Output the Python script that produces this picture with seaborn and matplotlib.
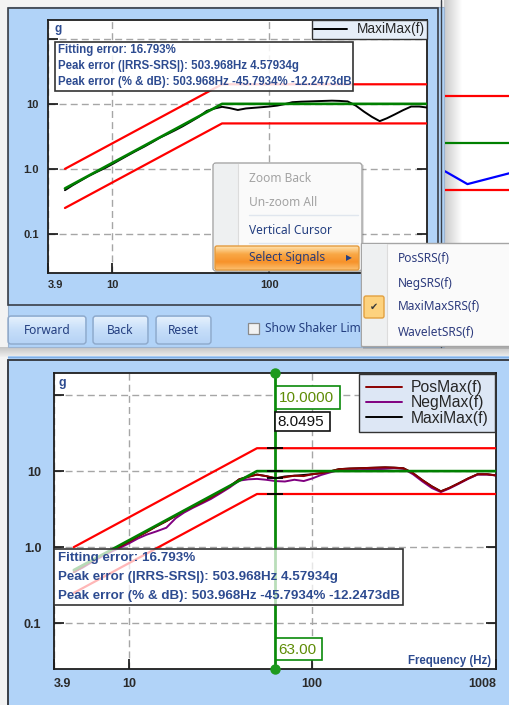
import numpy as np
import matplotlib
matplotlib.use("Agg")
import matplotlib.pyplot as plt
import seaborn as sns
from matplotlib.patches import Rectangle, FancyBboxPatch
from matplotlib.colors import LinearSegmentedColormap

# ---------------------------------------------------------------- data
freq = [5, 5.6, 6.3, 7.1, 8, 9, 10, 11.2, 12.5, 14, 16, 18, 20, 22.4, 25, 28,
        31.5, 35.5, 40, 45, 50, 56, 63, 71, 80, 90, 100, 112, 125, 140, 160,
        180, 200, 224, 250, 280, 315, 355, 400, 450, 503.968, 560, 630, 710,
        800, 900, 1000]
maximax = [0.47, 0.56, 0.66, 0.78, 0.90, 1.03, 1.18, 1.38, 1.60, 1.86, 2.20,
           2.58, 3.00, 3.42, 3.90, 4.50, 5.30, 6.30, 7.80, 8.50, 9.00, 8.60,
           8.0495, 8.50, 8.70, 8.90, 9.10, 9.40, 9.90, 10.6, 10.8, 10.9, 11.0,
           11.1, 11.2, 11.1, 10.9, 9.4, 7.6, 6.3, 5.42066, 6.0, 6.9, 8.0, 9.1,
           9.1, 8.8]
posmax = [0.47, 0.55, 0.66, 0.77, 0.90, 1.03, 1.18, 1.38, 1.58, 1.86, 2.20,
          2.58, 3.00, 3.42, 3.90, 4.50, 5.30, 6.30, 7.80, 8.40, 9.00, 8.60,
          8.0495, 8.30, 8.70, 8.60, 9.10, 9.40, 9.90, 10.6, 10.8, 10.9, 11.0,
          11.1, 11.2, 11.1, 10.9, 9.4, 7.6, 6.3, 5.42066, 6.0, 6.9, 8.0, 9.1,
          9.1, 8.8]
negmax = [0.47, 0.54, 0.64, 0.75, 0.87, 0.99, 1.12, 1.30, 1.46, 1.60, 1.80,
          2.40, 2.85, 3.30, 3.75, 4.30, 5.10, 6.10, 7.50, 7.80, 7.90, 7.70,
          7.40, 7.30, 7.70, 7.40, 8.00, 8.90, 9.60, 10.3, 10.5, 10.7, 10.6,
          10.6, 10.7, 10.9, 10.7, 9.1, 7.3, 6.0, 5.30, 5.9, 6.8, 7.9, 9.0,
          9.0, 8.8]

# required response spectrum with +/-6 dB tolerance band
ref_freq = [5, 50, 1000]
ref_level = [0.5, 10, 10]
upper_level = [1.0, 20, 20]
lower_level = [0.25, 5, 5]

# partially visible chart of the second window
side_freq = [430, 505, 680]
side_wavelet = [6.6, 5.46, 6.4]
side_band_freq = [430, 680]

x_ticks = [3.9, 10, 100, 1008]
x_tick_labels = ["3.9", "10", "100", "1008"]
y_ticks = [0.1, 1, 10, 100]
y_tick_labels = ["0.1", "1.0", "10", ""]

cursor_freq = 63.0
fitting_error = 16.793
peak_freq = 503.968
peak_abs = 4.57934
peak_pct = -45.7934
peak_db = -12.2473

menu_items = ["Zoom Back", "Un-zoom All", "Vertical Cursor", "Select Signals"]
signal_items = ["PosSRS(f)", "NegSRS(f)", "MaxiMaxSRS(f)", "WaveletSRS(f)"]
buttons = ["Forward", "Back", "Reset"]

# ---------------------------------------------------------------- setup
sns.set_theme(style="white")
plt.rcParams["font.family"] = ["Liberation Sans", "DejaVu Sans"]

W, H = 509, 705
fig = plt.figure(figsize=(W / 100, H / 100), dpi=100)
fig.patch.set_facecolor("#F3F3F3")

BLUE = "#B1D3F8"
DARK = "#3A3F48"
TXT_BLUE = "#2D4B90"
MENU_FONT = ["Noto Sans", "DejaVu Sans"]


def px_rect(x0, y0, x1, y1):
    return [x0 / W, 1 - y1 / H, (x1 - x0) / W, (y1 - y0) / H]


def pixel_axes(z):
    a = fig.add_axes([0, 0, 1, 1], zorder=z)
    a.set_facecolor("none")
    a.axis("off")
    return a


def gradient(a, x0, x1, y0, y1, colors, vertical=True, z=1, alpha=1.0):
    cmap = LinearSegmentedColormap.from_list("grad", colors)
    g = np.linspace(0, 1, 64)
    arr = g[:, None] if vertical else g[None, :]
    a.imshow(arr, cmap=cmap, extent=(x0, x1, y1, y0), aspect="auto",
             zorder=z, interpolation="bilinear", alpha=alpha)


def fix_pixels(a):
    a.set_xlim(0, W)
    a.set_ylim(H, 0)


# ---------------------------------------------------------------- background
bg = pixel_axes(0)
# second window (behind), with a soft shadow on its left edge
bg.add_patch(Rectangle((444, 0), W - 444, 350, facecolor="white", lw=0, zorder=1))
gradient(bg, 444, 462, 0, 350, ["#C9C9C9", "#FFFFFF"], vertical=False, z=2)
# top window
bg.add_patch(Rectangle((8, 7), 436, 340, facecolor=BLUE, edgecolor="#9DB4D0",
                       lw=0.8, zorder=3))
bg.add_patch(Rectangle((8, 8), 430, 297, facecolor="none", edgecolor=DARK,
                       lw=1.2, zorder=4))
bg.plot([441.5, 441.5], [0, 347], color=DARK, lw=1.0, zorder=4)
# gap shadow between windows
gradient(bg, 0, W, 347, 357, ["#C4C4C4", "#EFEFEF"], vertical=True, z=2)
# bottom window
bg.add_patch(Rectangle((8, 356), W - 8, H - 356, facecolor=BLUE, lw=0, zorder=3))
bg.plot([8, W], [356.5, 356.5], color="#7FAFE6", lw=1.0, zorder=4)
bg.plot([8, W], [360, 360], color=DARK, lw=1.4, zorder=4)
bg.plot([8.5, 8.5], [360, H], color=DARK, lw=1.4, zorder=4)

# buttons and checkbox of the top window
button_x = [(8, 86), (93, 148), (156, 211)]
for (bx0, bx1), name in zip(button_x, buttons):
    gradient(bg, bx0 + 1, bx1 - 1, 317, 343, ["#E4F0FD", "#C6DEF9", "#B6D3F5"], z=5)
    bg.add_patch(FancyBboxPatch((bx0, 316), bx1 - bx0, 28,
                                boxstyle="round,pad=0,rounding_size=3",
                                facecolor="none", edgecolor="#8EA8C9", lw=1.0,
                                zorder=6))
    bg.text((bx0 + bx1) / 2, 330.5, name, ha="center", va="center",
            fontsize=8.6, color="#243F80", family=MENU_FONT, zorder=7)
bg.add_patch(Rectangle((248, 323), 11, 11, facecolor="#F2F2F2",
                       edgecolor="#8A8A8A", lw=0.9, zorder=6))
bg.text(265, 329, "Show Shaker Lim", ha="left", va="center", fontsize=8.6,
        color="#243F80", family=MENU_FONT, zorder=7)
fix_pixels(bg)


# ---------------------------------------------------------------- chart helpers
def style_chart(ax, tsize, ypad, xpad, xlabels):
    ax.set_xscale("log")
    ax.set_yscale("log")
    ax.set_xlim(3.9, 1008)
    ax.set_ylim(0.025, 195)
    ax.set_xticks(x_ticks)
    ax.set_xticklabels(xlabels)
    ax.set_yticks(y_ticks)
    ax.set_yticklabels(y_tick_labels)
    ax.minorticks_off()
    ax.set_xlabel("")
    ax.set_ylabel("")
    ax.set_facecolor("white")
    ax.grid(True, which="major", color="#A6A6A6", lw=1.0, ls=(0, (5, 3)))
    ax.tick_params(axis="both", direction="in", length=7, width=1.2,
                   color="#111111", labelsize=tsize, labelcolor="#2A2A2A",
                   right=True, left=True, bottom=True, top=False)
    ax.tick_params(axis="y", pad=ypad)
    ax.tick_params(axis="x", pad=xpad)
    for lab in ax.get_xticklabels() + ax.get_yticklabels():
        lab.set_fontweight("bold")
    labs = ax.get_xticklabels()
    labs[0].set_horizontalalignment("left")
    labs[-1].set_horizontalalignment("right")
    for s in ax.spines.values():
        s.set_color("#1E1E1E")
        s.set_linewidth(1.3)
        s.set_visible(True)


def draw_band(ax, lw_band=1.6, lw_ref=1.9):
    sns.lineplot(x=ref_freq, y=ref_level, ax=ax, color="#008000", lw=lw_ref,
                 estimator=None, sort=False, zorder=4)
    sns.lineplot(x=ref_freq, y=upper_level, ax=ax, color="#FF0000", lw=lw_band,
                 estimator=None, sort=False, zorder=4)
    sns.lineplot(x=ref_freq, y=lower_level, ax=ax, color="#FF0000", lw=lw_band,
                 estimator=None, sort=False, zorder=4)


# ---------------------------------------------------------------- second window chart
side = fig.add_axes(px_rect(445, 0, 509, 243), zorder=1)
side.set_facecolor("none")
for lvl, col in [(20, "#FF0000"), (10, "#008000"), (5, "#FF0000")]:
    sns.lineplot(x=side_band_freq, y=[lvl, lvl], ax=side, color=col, lw=1.6,
                 estimator=None)
sns.lineplot(x=side_freq, y=side_wavelet, ax=side, color="#0000FF", lw=1.6,
             estimator=None, sort=False)
side.set_xscale("log")
side.set_yscale("log")
side.set_xlim(430, 680)
side.set_ylim(2.29, 82.6)
side.axis("off")

# ---------------------------------------------------------------- top chart
ax1 = fig.add_axes(px_rect(48, 20, 427, 273), zorder=2)
sns.lineplot(x=freq, y=maximax, ax=ax1, color="black", lw=1.4,
             estimator=None, sort=False, zorder=3, label="MaxiMax(f)")
draw_band(ax1)
# the last frequency label of this chart sits under the pop-up menu
style_chart(ax1, 8.0, 6.5, 5.0, x_tick_labels[:-1] + [""])
h, l = ax1.get_legend_handles_labels()
leg1 = ax1.legend(h, l, loc="upper right", bbox_to_anchor=(1.0, 1.0),
                  borderaxespad=0.0, fontsize=9.8, frameon=True, fancybox=False,
                  framealpha=1, facecolor="#E6EEF8", edgecolor="#333333",
                  handlelength=2.4, handletextpad=0.7, borderpad=0.18)
leg1.get_frame().set_linewidth(1.0)

# ---------------------------------------------------------------- bottom chart
ax2 = fig.add_axes(px_rect(54, 373, 496, 669), zorder=2)
sns.lineplot(x=freq, y=maximax, ax=ax2, color="black", lw=1.4,
             estimator=None, sort=False, zorder=3, label="MaxiMax(f)")
sns.lineplot(x=freq, y=negmax, ax=ax2, color="#800080", lw=1.4,
             estimator=None, sort=False, zorder=3, label="NegMax(f)")
sns.lineplot(x=freq, y=posmax, ax=ax2, color="#8B0000", lw=1.4,
             estimator=None, sort=False, zorder=3, label="PosMax(f)")
draw_band(ax2)
style_chart(ax2, 9.0, 9.0, 6.5, x_tick_labels)
h, l = ax2.get_legend_handles_labels()
order = [l.index("PosMax(f)"), l.index("NegMax(f)"), l.index("MaxiMax(f)")]
leg2 = ax2.legend([h[i] for i in order], [l[i] for i in order],
                  loc="upper right", bbox_to_anchor=(1.0, 1.0),
                  borderaxespad=0.05, fontsize=11.3, frameon=True,
                  fancybox=False, framealpha=1, facecolor="#DDE7F5",
                  edgecolor="#333333", handlelength=2.3, handletextpad=0.6,
                  borderpad=0.4, labelspacing=0.02)
leg2.get_frame().set_linewidth(1.0)

# vertical cursor
log_ref = np.log10(ref_freq)
lc = np.log10(cursor_freq)
cur_ref = 10 ** np.interp(lc, log_ref, np.log10(ref_level))
cur_up = 10 ** np.interp(lc, log_ref, np.log10(upper_level))
cur_low = 10 ** np.interp(lc, log_ref, np.log10(lower_level))
cur_val = maximax[freq.index(cursor_freq)]
ax2.axvline(cursor_freq, color="#0A8A0A", lw=2.0, zorder=5)
y0, y1 = ax2.get_ylim()
ax2.plot([cursor_freq, cursor_freq], [y0, y1], ls="none", marker="o", ms=6.5,
         color="#1E9A1E", clip_on=False, zorder=6)
ax2.plot([cursor_freq] * 4, [cur_up, cur_ref, cur_val, cur_low], ls="none",
         marker="_", ms=11, mew=1.3, color="black", zorder=6)

# ---------------------------------------------------------------- overlay texts / menus
ov = pixel_axes(5)

# unit labels
ov.text(58, 29, "g", fontsize=8.5, fontweight="bold", color=TXT_BLUE,
        ha="center", va="center")
ov.text(62, 383, "g", fontsize=9.0, fontweight="bold", color=TXT_BLUE,
        ha="center", va="center")
ov.text(491, 661, "Frequency (Hz)", fontsize=8.3, fontweight="bold",
        color=TXT_BLUE, ha="right", va="center")

info_lines = [
    f"Fitting error: {fitting_error:.3f}%",
    f"Peak error (|RRS-SRS|): {peak_freq:.3f}Hz {peak_abs:.5f}g",
    f"Peak error (% & dB): {peak_freq:.3f}Hz {peak_pct:.4f}% {peak_db:.4f}dB",
]
# info box, top chart
ov.add_patch(Rectangle((55, 42), 298, 49, facecolor="white", alpha=0.85,
                       edgecolor="none", zorder=2))
ov.add_patch(Rectangle((55, 42), 298, 49, facecolor="none", edgecolor="#333333",
                       lw=1.2, zorder=3))
for yy, s in zip([50, 66, 82], info_lines):
    ov.text(58, yy, s, fontsize=8.3, fontweight="bold", color=TXT_BLUE,
            ha="left", va="center", zorder=4)
# info box, bottom chart
ov.add_patch(Rectangle((54, 549), 349, 56, facecolor="white", alpha=0.72,
                       edgecolor="none", zorder=2))
ov.add_patch(Rectangle((54, 549), 349, 56, facecolor="none", edgecolor="#333333",
                       lw=1.2, zorder=3))
for yy, s in zip([558, 577, 596], info_lines):
    ov.text(58, yy, s, fontsize=9.6, fontweight="bold", color=TXT_BLUE,
            ha="left", va="center", zorder=4)

# cursor read-outs
CUR_TXT = "#5E8C06"
for (bx0, by0, bx1, by1), s, ec, tc in [
        ((276, 386, 340, 409), f"{cur_ref:.4f}", "#0A8A0A", CUR_TXT),
        ((275, 412, 330, 431), f"{cur_val:.4f}", "#111111", "#111111"),
        ((276, 638, 322, 660), f"{cursor_freq:.2f}", "#0A8A0A", CUR_TXT)]:
    ov.add_patch(Rectangle((bx0, by0), bx1 - bx0, by1 - by0, facecolor="white",
                           edgecolor=ec, lw=1.2, zorder=4))
    ov.text(bx0 + 2.5, (by0 + by1) / 2 + 0.5, s, fontsize=11, color=tc,
            ha="left", va="center", zorder=5)

# context menu
ov.add_patch(Rectangle((215, 165), 149, 108, facecolor="#000000", alpha=0.12,
                       lw=0, zorder=6))
ov.add_patch(FancyBboxPatch((213, 163), 149, 108,
                            boxstyle="round,pad=0,rounding_size=3",
                            facecolor="#FAFAFA", edgecolor="#A5A5A5", lw=1.0,
                            zorder=7))
ov.add_patch(Rectangle((214, 164), 24, 106, facecolor="#EEF0F1", lw=0, zorder=7))
ov.plot([238.5, 238.5], [164, 270], color="#DCDCDC", lw=0.8, zorder=8)
ov.plot([249, 358], [215, 215], color="#E0E6EE", lw=1.0, zorder=8)
ov.plot([249, 358], [243, 243], color="#E0E6EE", lw=1.0, zorder=8)
gradient(ov, 215, 359, 246, 270, ["#FFE3B0", "#F9A846", "#F7922A", "#FCC070"],
         z=8)
ov.add_patch(FancyBboxPatch((215, 246), 144, 24,
                            boxstyle="round,pad=0,rounding_size=2",
                            facecolor="none", edgecolor="#E39A3E", lw=1.0,
                            zorder=9))
menu_y = [178, 202, 230, 258]
menu_col = ["#A3A3A3", "#A3A3A3", "#243F80", "#2A3C78"]
for yy, s, c in zip(menu_y, menu_items, menu_col):
    ov.text(249, yy, s, fontsize=8.6, color=c, family=MENU_FONT, ha="left",
            va="center", zorder=10)
ov.text(349, 258, "▶", fontsize=5.5, color="#243F80", ha="center",
        va="center", zorder=10, family=["DejaVu Sans"])

# submenu
ov.add_patch(Rectangle((363, 245), 150, 104, facecolor="#000000", alpha=0.12,
                       lw=0, zorder=6))
ov.add_patch(Rectangle((361, 243), 150, 103, facecolor="#FAFAFA",
                       edgecolor="#A5A5A5", lw=1.0, zorder=7))
ov.add_patch(Rectangle((362, 244), 25, 101, facecolor="#EEF0F1", lw=0, zorder=7))
ov.plot([387.5, 387.5], [244, 345], color="#DCDCDC", lw=0.8, zorder=8)
ov.add_patch(FancyBboxPatch((364, 296), 20, 22,
                            boxstyle="round,pad=0,rounding_size=2",
                            facecolor="#FDD27E", edgecolor="#E2A040", lw=1.0,
                            zorder=9))
ov.text(374, 307, "✔", fontsize=7, color="#3A3A3A", ha="center", va="center",
        zorder=10, family=["DejaVu Sans"])
for yy, s in zip([258, 283, 307, 332], signal_items):
    ov.text(398, yy, s, fontsize=8.6, color="#2E3C7E", family=MENU_FONT,
            ha="left", va="center", zorder=10)
fix_pixels(ov)

fig.savefig("out.png", dpi=100)
